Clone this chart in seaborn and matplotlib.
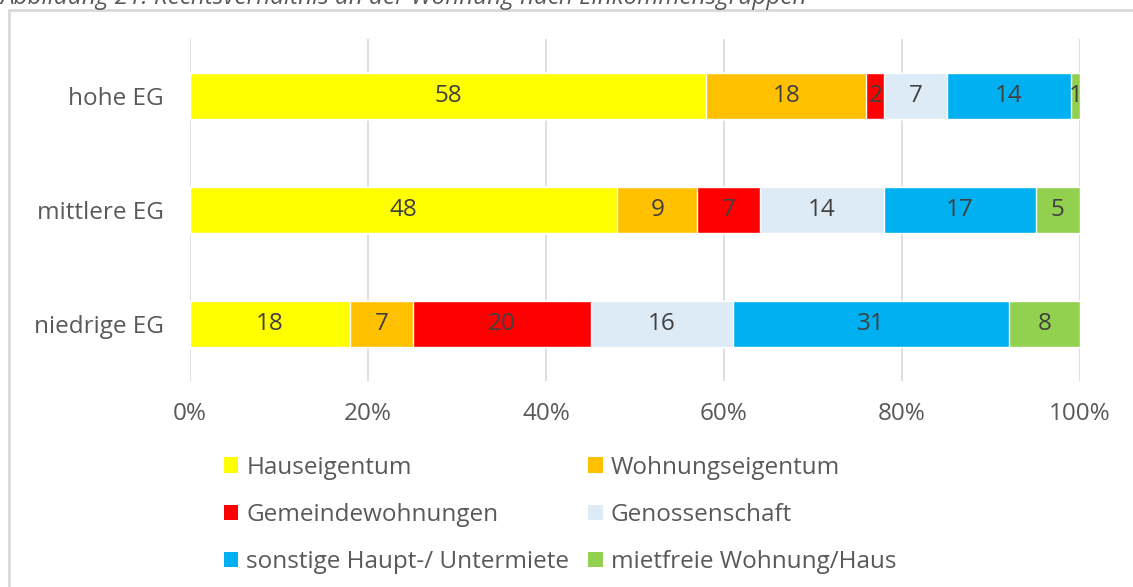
import numpy as np
import pandas as pd
import seaborn as sns
import matplotlib.pyplot as plt
from matplotlib.patches import Patch, Rectangle

# data
groups = ["hohe EG", "mittlere EG", "niedrige EG"]
categories = ["Hauseigentum", "Wohnungseigentum", "Gemeindewohnungen",
              "Genossenschaft", "sonstige Haupt-/ Untermiete", "mietfreie Wohnung/Haus"]
hauseigentum = [58, 48, 18]
wohnungseigentum = [18, 9, 7]
gemeinde = [2, 7, 20]
genossenschaft = [7, 14, 16]
sonstige = [14, 17, 31]
mietfrei = [1, 5, 8]
colors = ["#FFFF00", "#FFC000", "#FF0000", "#DDEBF7", "#00B0F0", "#92D050"]

sns.set_style("white")
plt.rcParams["font.family"] = ["Open Sans", "DejaVu Sans"]
fs = 17.5

df = pd.DataFrame({"group": groups, "Hauseigentum": hauseigentum,
                   "Wohnungseigentum": wohnungseigentum, "Gemeindewohnungen": gemeinde,
                   "Genossenschaft": genossenschaft,
                   "sonstige Haupt-/ Untermiete": sonstige,
                   "mietfreie Wohnung/Haus": mietfrei})
cum = df[categories].cumsum(axis=1)

fig = plt.figure(figsize=(11.33, 5.87), dpi=100)
ax = fig.add_axes([190 / 1133, 1 - 381 / 587, 890 / 1133, 342 / 587])

# stacked bars: draw the cumulative totals from the largest down
for cat, col in reversed(list(zip(categories, colors))):
    sns.barplot(x=cum[cat] / 100, y=df["group"], color=col, width=0.4,
                orient="h", ax=ax, saturation=1, zorder=3)

# segment labels
for i in range(len(groups)):
    left = 0
    for cat in categories:
        v = df.loc[i, cat]
        ax.text((left + v / 2) / 100, i, str(v), ha="center", va="center",
                fontsize=fs, color="#404040", zorder=4)
        left += v

ax.set_xlim(0, 1)
ax.set_ylim(2.5, -0.5)
ax.set_xticks(np.arange(0, 1.01, 0.2))
ax.set_xticklabels([f"{int(t * 100)}%" for t in np.arange(0, 1.01, 0.2)])
ax.grid(axis="x", color="#D9D9D9", linewidth=1.2, zorder=0)
ax.set_axisbelow(True)
for s in ax.spines.values():
    s.set_visible(False)
ax.set_xlabel("")
ax.set_ylabel("")
ax.tick_params(axis="both", length=0, labelsize=fs, labelcolor="#595959")
ax.tick_params(axis="x", pad=15)
ax.tick_params(axis="y", pad=19)

# legend, row-wise order
handles = [Patch(facecolor=c, edgecolor="none") for c in colors]
order = [0, 2, 4, 1, 3, 5]
fig.legend([handles[k] for k in order], [categories[k] for k in order],
           ncol=2, loc="upper left", bbox_to_anchor=(214 / 1133, 1 - 446 / 587),
           frameon=False, fontsize=fs, labelcolor="#595959",
           handlelength=0.6, handleheight=0.6, handletextpad=0.33,
           columnspacing=0.78, labelspacing=0.95, borderaxespad=0)

# outer frame and cut-off caption
fig.patches.append(Rectangle((9 / 1133, -0.01), 1.2, 1 - 10 / 587 + 0.01,
                             transform=fig.transFigure, fill=False,
                             edgecolor="#D9D9D9", linewidth=2))
fig.text(0, 1 + 2 / 587,
         "Abbildung 21: Rechtsverhältnis an der Wohnung nach Einkommensgruppen",
         fontsize=17.5, style="italic", color="#595959", va="center")

fig.savefig("out.png", dpi=100)
